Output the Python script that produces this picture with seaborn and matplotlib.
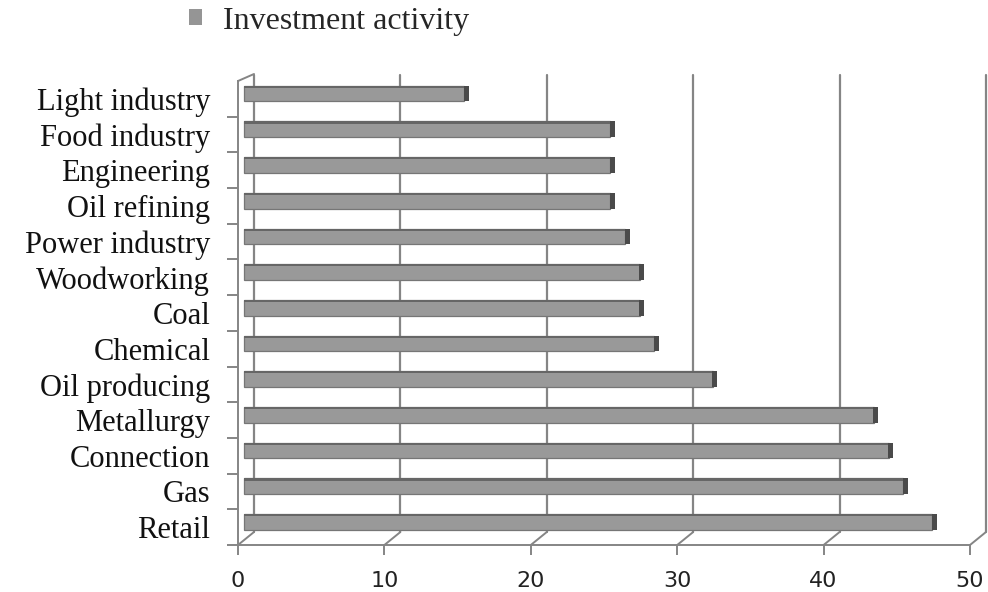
import matplotlib
matplotlib.use("Agg")
import matplotlib.pyplot as plt
from matplotlib.patches import Patch
from matplotlib.transforms import ScaledTranslation
import seaborn as sns
import pandas as pd

# Investment activity by industry
industries = ["Light industry", "Food industry", "Engineering", "Oil refining",
              "Power industry", "Woodworking", "Coal", "Chemical", "Oil producing",
              "Metallurgy", "Connection", "Gas", "Retail"]
activity = [15, 25, 25, 25, 26, 27, 27, 28, 32, 43, 44, 45, 47]
x_ticks = [0, 10, 20, 30, 40, 50]
series_name = "Investment activity"

df = pd.DataFrame({"industry": industries, "activity": activity})

sns.set_theme(style="white")
DPI = 100
fig = plt.figure(figsize=(9.88, 5.92), dpi=DPI)
ax = fig.add_axes([238 / 988, 47 / 592, 732 / 988, 464 / 592])

BAR_FILL = "#999999"
BAR_EDGE = "#767676"
CAP = "#4a4a4a"
GRID = "#858585"

# depth offsets of the pseudo-3D frame (in pixels)
DEPTH_X, DEPTH_Y = 16, 13
bar_shift = ScaledTranslation(0.4 * DEPTH_X / DPI, 0.4 * DEPTH_Y / DPI, fig.dpi_scale_trans)

sns.barplot(data=df, x="activity", y="industry", orient="h", ax=ax,
            color=BAR_FILL, width=0.44, edgecolor=BAR_EDGE, linewidth=0.9,
            saturation=1, zorder=3)
for p in ax.patches:
    p.set_transform(ax.transData + bar_shift)

# dark upper edge (top face) of each bar
tops = ax.barh([i - 0.19 for i in range(len(industries))], activity,
               height=0.06, color="#666666", linewidth=0, zorder=4)
# dark end faces of the bars
caps = ax.barh(range(len(industries)), [0.34] * len(industries),
               left=[v - 0.03 for v in activity],
               height=0.44, color=CAP, linewidth=0, zorder=5)
for p in list(tops) + list(caps):
    p.set_transform(ax.transData + bar_shift)

ax.set_xlim(0, 50)
ax.set_ylim(len(industries) - 0.5, -0.5)

# back wall grid lines, floor connectors
back = ScaledTranslation(DEPTH_X / DPI, DEPTH_Y / DPI, fig.dpi_scale_trans)
y_bot, y_top = len(industries) - 0.5, -0.30
for t in x_ticks:
    ax.plot([t, t], [y_bot, y_top], color=GRID, lw=1.6,
            transform=ax.transData + back, clip_on=False, zorder=1)
    ax.plot([t, t + DEPTH_X / 14.64], [y_bot, y_bot - DEPTH_Y / 35.7], color=GRID, lw=1.4,
            clip_on=False, zorder=1)
# top-left corner of the frame
ax.plot([0, DEPTH_X / 14.64], [-0.5, -0.5 - 7 / 35.7], color=GRID, lw=1.4, clip_on=False)

for side in ["top", "right"]:
    ax.spines[side].set_visible(False)
for side in ["left", "bottom"]:
    ax.spines[side].set_color(GRID)
    ax.spines[side].set_linewidth(1.4)

ax.set_xticks(x_ticks)
ax.set_xticklabels([str(t) for t in x_ticks], fontsize=16, family="DejaVu Sans", color="#222222")
ax.tick_params(axis="x", direction="out", length=7, width=1.4, color=GRID, pad=12, bottom=True)

ax.set_yticks(range(len(industries)))
ax.set_yticklabels(industries, fontsize=22, family="Liberation Serif", color="#111111")
ax.tick_params(axis="y", which="major", length=0, pad=20)
ax.set_yticks([i + 0.5 for i in range(len(industries))], minor=True)
ax.tick_params(axis="y", which="minor", direction="out", length=8, width=1.4, color=GRID, left=True)

ax.set_xlabel("")
ax.set_ylabel("")
ax.grid(False)

ax.legend(handles=[Patch(facecolor="#959595", edgecolor="none", label=series_name)],
          loc="center left", bbox_to_anchor=(173 / 988, 1 - 21 / 592),
          bbox_transform=fig.transFigure, frameon=False, borderpad=0,
          handlelength=0.42, handleheight=0.42, handletextpad=0.65,
          prop={"family": "Liberation Serif", "size": 23})

fig.savefig("out.png", dpi=DPI)
